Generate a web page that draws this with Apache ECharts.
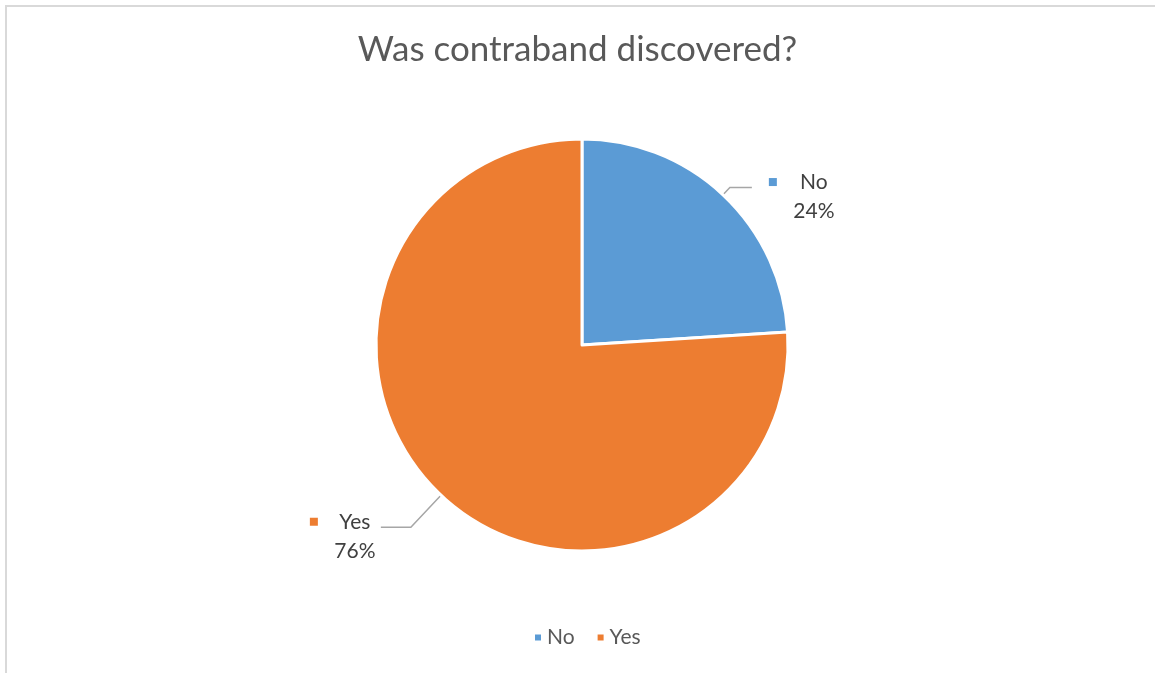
<!DOCTYPE html>
<html>
<head>
<meta charset="utf-8">
<script src="https://cdn.jsdelivr.net/npm/echarts@6/dist/echarts.min.js"></script>
<style>
  html, body { margin: 0; padding: 0; background: #ffffff; }
  #frame { position: absolute; left: 5px; top: 5px; width: 1160px; height: 680px;
           border-top: 2px solid #d9d9d9; border-left: 2px solid #d9d9d9; }
  #chart { position: absolute; left: 0; top: 0; width: 1155px; height: 673px; }
</style>
</head>
<body>
<div id="frame"></div>
<div id="chart"></div>
<script>
// Survey answers and their shares (percent)
const categories = ['No', 'Yes'];
const shares = [24, 76];
const colors = ['#5B9BD5', '#ED7D31'];
const titleText = 'Was contraband discovered?';

const FONT = 'Lato, "Open Sans", sans-serif';

// Leader line lengths per slice (radial part, horizontal part)
const leaderLen = [10, 44];
const leaderLen2 = [22, 30];
const labelGap = [17, 5];

// Data label: colour key on the left, name and percentage centred in a column
function labelFor(i) {
  const txt = { fontSize: 21, fontFamily: FONT, color: '#404040', align: 'center', lineHeight: 29, width: 42 };
  return {
    show: true,
    position: 'outside',
    distanceToLabelLine: labelGap[i],
    padding: [18, 0, 0, 0],
    formatter: '{m|}{g|}{n|{b}}\n{s|}{p|{d}%}',
    rich: {
      m: { width: 8, height: 8, backgroundColor: colors[i], align: 'center' },
      g: { width: 16, align: 'center' },
      s: { width: 24, align: 'center' },
      n: txt,
      p: txt
    }
  };
}

const chart = echarts.init(document.getElementById('chart'), null, { renderer: 'canvas' });
chart.setOption({
  animation: false,
  title: {
    text: titleText,
    left: 'center',
    top: 27,
    textStyle: { fontFamily: FONT, fontSize: 35, fontWeight: 'normal', color: '#595959' }
  },
  legend: {
    data: categories,
    bottom: 20,
    left: 528,
    padding: 5,
    icon: 'rect',
    itemWidth: 8,
    itemHeight: 8,
    itemGap: 21,
    textStyle: { fontFamily: FONT, fontSize: 21, color: '#595959' }
  },
  series: [{
    type: 'pie',
    center: [582, 345],
    radius: 206,
    startAngle: 90,
    clockwise: true,
    itemStyle: { borderColor: '#ffffff', borderWidth: 3 },
    labelLine: { lineStyle: { color: '#a6a6a6', width: 1.5 } },
    emphasis: { disabled: true },
    data: categories.map((c, i) => ({
      name: c,
      value: shares[i],
      itemStyle: { color: colors[i] },
      label: labelFor(i),
      labelLine: { show: true, length: leaderLen[i], length2: leaderLen2[i] }
    }))
  }]
});
</script>
</body>
</html>
